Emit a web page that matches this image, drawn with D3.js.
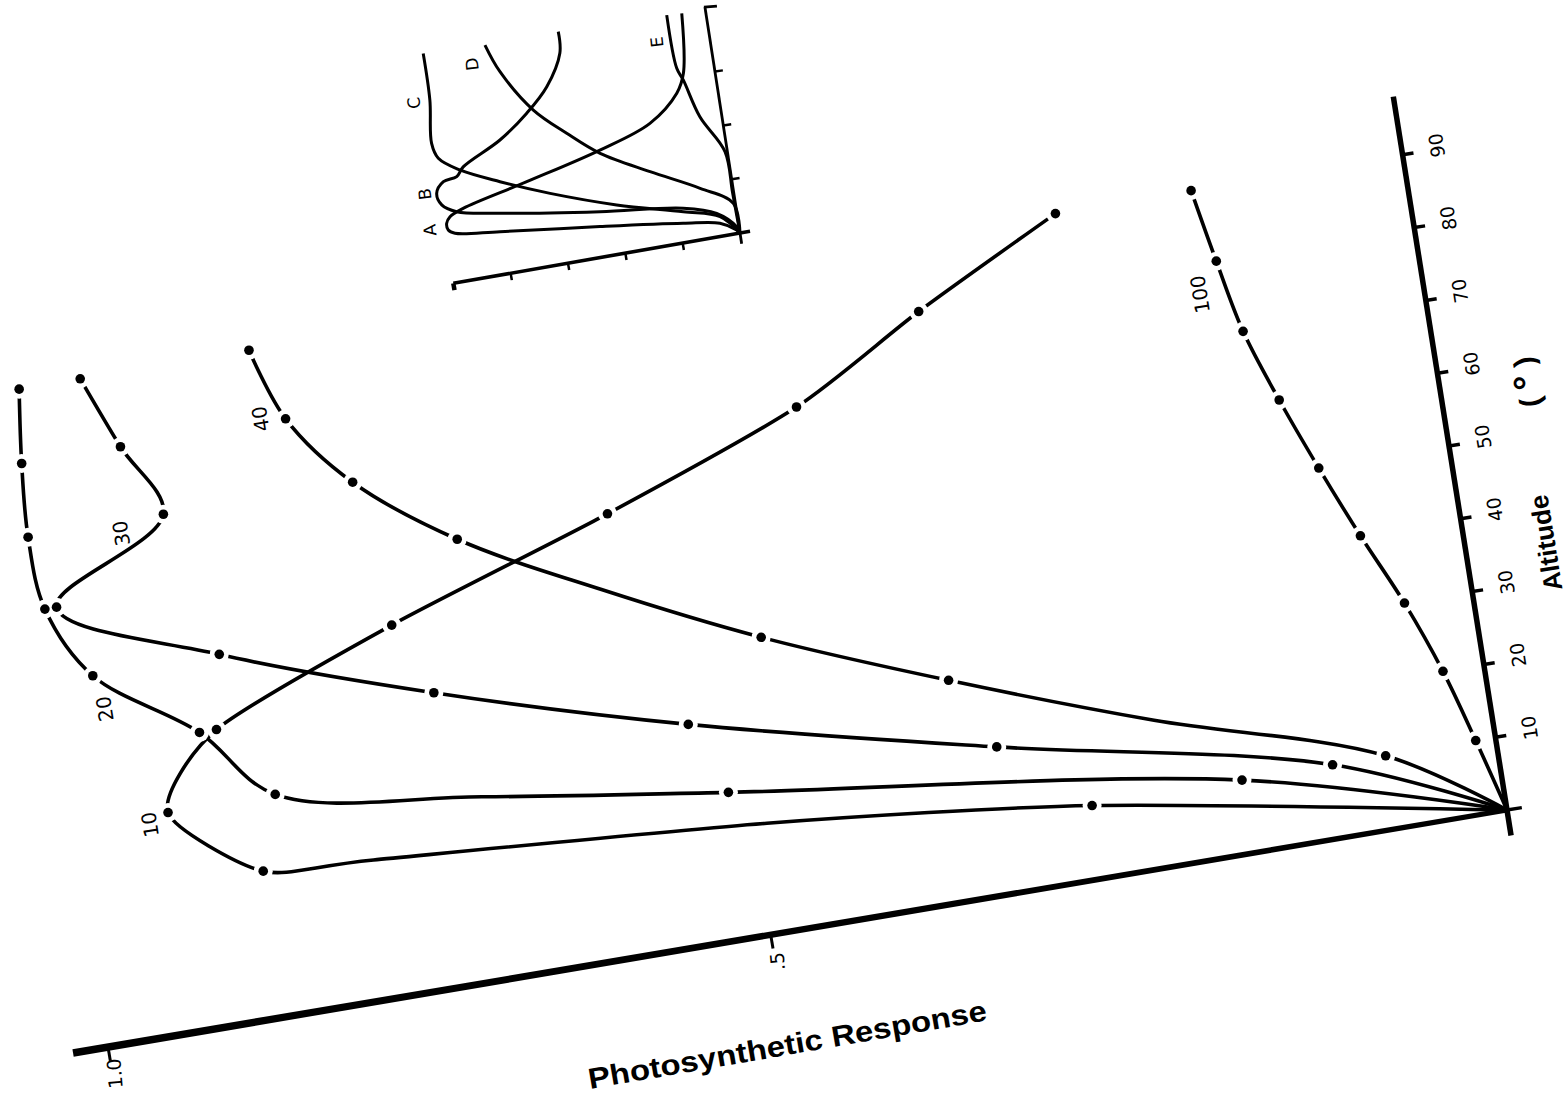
<!DOCTYPE html>
<html>
<head>
<meta charset="utf-8">
<script src="https://cdn.jsdelivr.net/npm/d3@7"></script>
<style>
  html, body { margin: 0; padding: 0; background: #fff; }
  svg { display: block; }
</style>
</head>
<body>
<svg id="chart" width="1567" height="1098"></svg>
<script>
// ---------------------------------------------------------------
// Data: readings of [solar altitude (deg), relative photosynthetic
// response] along each canopy curve (labelled 10, 20, 30, 40, 100).
// ---------------------------------------------------------------
const curve10  = [[0,0],[10,0.261],[15,0.490],[19,0.780],[20,0.863],[30,0.927],
                  [40,0.881],[50,0.739],[60,0.569],[70,0.422],[80,0.326],[90,0.222]];
const curve20  = [[0,0],[10,0.158],[20,0.514],[25,0.693],[30,0.845],[40,0.894],[50,0.967],
                  [60,0.995],[70,0.999],[80,0.995],[90,0.988]];
const curve30  = [[0,0],[10,0.098],[20,0.320],[30,0.535],[40,0.716],[50,0.870],[60,0.986],
                  [70,0.895],[80,0.919],[90,0.941]];
const curve40  = [[0,0],[10,0.064],[20,0.210],[30,0.346],[40,0.473],[50,0.582],[60,0.681],
                  [70,0.751],[80,0.793],[90,0.812]];
const curve100 = [[0,0],[10,0.010],[20,0.022],[30,0.038],[40,0.058],[50,0.077],[60,0.095],
                  [70,0.111],[80,0.121],[90,0.130]];

const curveNames = ["10", "20", "30", "40", "100"];

// altitudes at which an observation marker is plotted on each curve
const marks10  = [10, 20, 30, 40, 50, 60, 70, 80, 90];
const marks20  = [10, 20, 30, 40, 50, 60, 70, 80, 90];
const marks30  = [10, 20, 30, 40, 50, 60, 70, 80, 90];
const marks40  = [10, 30, 40, 60, 70, 80, 90];
const marks100 = [10, 20, 30, 40, 50, 60, 70, 80, 90];

// axis ticks
const altTicks = [10, 20, 30, 40, 50, 60, 70, 80, 90];
const respTicks = [0.5, 1.0];
const respTickLabels = [".5", "1.0"];

// ---------------------------------------------------------------
// Inset: curves A-E as [altitude, response] readings
// ---------------------------------------------------------------
const insetA = [[0,0],[1.3,0.010],[4.8,0.063],[7.1,0.188],[11.2,0.472],[15.7,0.814],[18,0.968],
                [19.6,0.989],[22.1,0.991],[24.3,0.976],[26.5,0.927],[32.1,0.697],[38.9,0.432],
                [45.4,0.248],[54.6,0.141],[61.4,0.108],[83.2,0.082]];
const insetB = [[0,0],[2.5,0.008],[8.6,0.069],[12.6,0.180],[16.6,0.464],[22.4,0.805],[25.7,0.951],
                [29.1,0.998],[33.6,1.009],[37.4,0.980],[38.4,0.932],[41.5,0.905],[48.9,0.766],
                [56.9,0.661],[65.2,0.579],[76.5,0.517],[84.4,0.511]];
const insetC = [[0,0],[7.2,0.059],[11.3,0.181],[18,0.404],[26.4,0.624],[33.8,0.788],[40.6,0.918],
                [46.2,0.985],[52,1.000],[67.8,0.983],[85.1,0.981]];
const insetD = [[0,0],[11.2,0.007],[18.7,0.112],[27.9,0.273],[37.7,0.433],[47.1,0.536],
                [57.6,0.637],[73.6,0.730],[84.2,0.767]];
const insetE = [[0,0],[15,0.004],[30.4,0.008],[44.6,0.075],[59,0.112],[63.6,0.128],[83.5,0.134]];
const insetNames = ["A", "B", "C", "D", "E"];
const insetAltTicks = [20, 40, 60];
const insetRespTicks = [0.2, 0.4, 0.6, 0.8, 1.0];

// ---------------------------------------------------------------
// Oblique projection: altitude runs up a tilted axis, response runs
// down-left along a receding axis that shares the same origin.
// ---------------------------------------------------------------
const svg = d3.select("#chart");
const unit = (x, y) => { const l = Math.hypot(x, y); return [x / l, y / l]; };
const deg = v => Math.atan2(v[1], v[0]) * 180 / Math.PI;

const origin = [1507, 810];
const altDir = unit(-1.16, -7.28);
const respDir = unit(-1399, 237);
const altLen = d3.scaleLinear().domain([0, 90]).range([0, 90 * Math.hypot(1.16, 7.28)]);
const respLen = d3.scalePow().exponent(0.926).domain([0, 1]).range([0, Math.hypot(1399, 237)]);

function P(a, r) {
  const da = altLen(a), dr = respLen(r);
  return [origin[0] + da * altDir[0] + dr * respDir[0],
          origin[1] + da * altDir[1] + dr * respDir[1]];
}
const altRight = [-altDir[1], altDir[0]];            // normal to the right of the altitude axis
const respDown = [respDir[1], -respDir[0]];           // normal below the response axis
const altAngle = deg(altDir);
const numFont = "DejaVu Sans, sans-serif";
const titleFont = "Liberation Sans, Arial, Helvetica, sans-serif";

// ---- axes ----
const axisG = svg.append("g");
const A0 = P(-3.5, 0), A1 = P(98, 0);
axisG.append("line").attr("x1", A0[0]).attr("y1", A0[1]).attr("x2", A1[0]).attr("y2", A1[1])
  .attr("stroke", "#000").attr("stroke-width", 5.5);

// response axis: a slightly tapering bar, heavier at the far end
const R1 = P(0, 1.027);
const wNear = 2.6, wFar = 3.8;
const bar = [
  [origin[0] - respDown[0] * wNear, origin[1] - respDown[1] * wNear],
  [R1[0] - respDown[0] * wFar, R1[1] - respDown[1] * wFar],
  [R1[0] + respDown[0] * wFar, R1[1] + respDown[1] * wFar],
  [origin[0] + respDown[0] * wNear, origin[1] + respDown[1] * wNear]
];
axisG.append("path").attr("d", d3.line()(bar) + "Z").attr("fill", "#000");

// altitude ticks (including the origin tick)
[0].concat(altTicks).forEach(t => {
  const p = P(t, 0), len = t === 0 ? 15 : 11;
  axisG.append("line").attr("x1", p[0]).attr("y1", p[1])
    .attr("x2", p[0] + altRight[0] * len).attr("y2", p[1] + altRight[1] * len)
    .attr("stroke", "#000").attr("stroke-width", 3.5);
});
altTicks.forEach(t => {
  const p = P(t, 0);
  const c = [p[0] + altRight[0] * 35 + altDir[0] * 4, p[1] + altRight[1] * 35 + altDir[1] * 4];
  axisG.append("text").attr("transform", `translate(${c[0]},${c[1]}) rotate(${altAngle})`)
    .attr("text-anchor", "middle").attr("dominant-baseline", "central")
    .attr("font-family", numFont).attr("font-size", 19).text(t);
});

// response ticks
respTicks.forEach((t, i) => {
  const p = P(0, t);
  axisG.append("line").attr("x1", p[0]).attr("y1", p[1])
    .attr("x2", p[0] + respDown[0] * 14).attr("y2", p[1] + respDown[1] * 14)
    .attr("stroke", "#000").attr("stroke-width", 3);
  const c = [p[0] + respDown[0] * 27, p[1] + respDown[1] * 27];
  axisG.append("text").attr("transform", `translate(${c[0] + 2},${c[1]}) rotate(-95)`)
    .attr("text-anchor", "middle").attr("dominant-baseline", "central")
    .attr("font-family", numFont).attr("font-size", 19).text(respTickLabels[i]);
});

// axis titles
axisG.append("text").attr("transform", `translate(1546,543) rotate(${altAngle})`)
  .attr("text-anchor", "middle").attr("dominant-baseline", "central")
  .attr("font-family", titleFont).attr("font-weight", "bold")
  .attr("font-size", 26).text("Altitude");
const unitLabel = axisG.append("text").attr("transform", `translate(1527,382) rotate(${altAngle})`)
  .attr("text-anchor", "middle").attr("dominant-baseline", "central")
  .attr("font-family", titleFont).attr("font-weight", "bold").attr("font-size", 29);
unitLabel.append("tspan").text("( ");
unitLabel.append("tspan").attr("font-size", 38).text("°");
unitLabel.append("tspan").text(" )");
axisG.append("text").attr("transform", "translate(590,1089) rotate(-9.8)")
  .attr("text-anchor", "start")
  .attr("font-family", titleFont).attr("font-weight", "bold")
  .attr("font-size", 29).attr("textLength", 404).attr("lengthAdjust", "spacingAndGlyphs")
  .text("Photosynthetic  Response");

// ---- response curves ----
const smooth = d3.curveCatmullRom.alpha(0.5);
const tight = d3.curveCardinal.tension(0.3);   // for the curve with a sharp bend at its low point
const series = [
  { name: curveNames[0], values: curve10,  marks: marks10,  shape: tight,  labelAt: 30, dx: -18, dy: 12 },
  { name: curveNames[1], values: curve20,  marks: marks20,  shape: smooth, labelAt: 50, dx: 12,  dy: 33 },
  { name: curveNames[2], values: curve30,  marks: marks30,  shape: smooth, labelAt: 70, dx: -42, dy: 19 },
  { name: curveNames[3], values: curve40,  marks: marks40,  shape: smooth, labelAt: 80, dx: -25, dy: 0 },
  { name: curveNames[4], values: curve100, marks: marks100, shape: smooth, labelAt: 70, dx: -43, dy: -37 }
];
const responseAt = (s, a) => s.values.find(d => d[0] === a)[1];
const curveG = svg.append("g");
series.forEach(s => {
  const path = d3.line().curve(s.shape);
  curveG.append("path").attr("d", path(s.values.map(d => P(d[0], d[1])))).attr("fill", "none")
    .attr("stroke", "#000").attr("stroke-width", 3.6).attr("stroke-linejoin", "round");
});
// gaps around markers, then the markers and curve labels
const haloG = svg.append("g"), dotG = svg.append("g");
series.forEach(s => {
  s.marks.forEach(a => {
    const p = P(a, responseAt(s, a));
    haloG.append("circle").attr("cx", p[0]).attr("cy", p[1]).attr("r", 9.5).attr("fill", "#fff");
    dotG.append("circle").attr("cx", p[0]).attr("cy", p[1]).attr("r", 4.8).attr("fill", "#000");
  });
  const p = P(s.labelAt, responseAt(s, s.labelAt));
  dotG.append("text").attr("transform", `translate(${p[0] + s.dx},${p[1] + s.dy}) rotate(${altAngle})`)
    .attr("text-anchor", "middle").attr("dominant-baseline", "central")
    .attr("font-family", numFont).attr("font-size", 20).text(s.name);
});

// ---------------------------------------------------------------
// Inset
// ---------------------------------------------------------------
const insetOrigin = [740, 233];
const insetAltDir = unit(-0.4175, -2.69);
const insetRespDir = unit(-286.7, 50.3);
const insetAltLen = d3.scaleLinear().domain([0, 20]).range([0, 20 * Math.hypot(0.4175, 2.69)]);
const insetRespLen = d3.scaleLinear().domain([0, 1]).range([0, Math.hypot(286.7, 50.3)]);
function Q(a, r) {
  const da = insetAltLen(a), dr = insetRespLen(r);
  return [insetOrigin[0] + da * insetAltDir[0] + dr * insetRespDir[0],
          insetOrigin[1] + da * insetAltDir[1] + dr * insetRespDir[1]];
}
const iRight = [-insetAltDir[1], insetAltDir[0]];
const iDown = [insetRespDir[1], -insetRespDir[0]];
const insetG = svg.append("g");
const q0 = Q(-4, 0), q1 = Q(84, 0);
insetG.append("line").attr("x1", q0[0]).attr("y1", q0[1]).attr("x2", q1[0]).attr("y2", q1[1])
  .attr("stroke", "#000").attr("stroke-width", 2.8);
insetG.append("line").attr("x1", q1[0] - 1).attr("y1", q1[1]).attr("x2", q1[0] + 12).attr("y2", q1[1] - 1)
  .attr("stroke", "#000").attr("stroke-width", 2.8);
insetAltTicks.forEach(t => {
  const p = Q(t, 0);
  insetG.append("line").attr("x1", p[0]).attr("y1", p[1])
    .attr("x2", p[0] + iRight[0] * 8).attr("y2", p[1] + iRight[1] * 8)
    .attr("stroke", "#000").attr("stroke-width", 2.5);
});
const r0 = Q(0, -0.035), r1 = Q(0, 1.0);
insetG.append("line").attr("x1", r0[0]).attr("y1", r0[1]).attr("x2", r1[0]).attr("y2", r1[1])
  .attr("stroke", "#000").attr("stroke-width", 3.6);
insetRespTicks.forEach(t => {
  const p = Q(0, t);
  insetG.append("line").attr("x1", p[0]).attr("y1", p[1])
    .attr("x2", p[0] + iDown[0] * 7).attr("y2", p[1] + iDown[1] * 7)
    .attr("stroke", "#000").attr("stroke-width", t === 1.0 ? 4.5 : 2.5);
});
const insetLine = d3.line().curve(smooth);
const insetSeries = [insetA, insetB, insetC, insetD, insetE];
insetSeries.forEach(s => {
  insetG.append("path").attr("d", insetLine(s.map(d => Q(d[0], d[1])))).attr("fill", "none")
    .attr("stroke", "#000").attr("stroke-width", 3).attr("stroke-linejoin", "round");
});
const insetLabelPos = [[430, 230], [425, 194], [414, 103], [472, 64], [657, 42]];
insetNames.forEach((n, i) => {
  insetG.append("text").attr("transform", `translate(${insetLabelPos[i][0]},${insetLabelPos[i][1]}) rotate(-96)`)
    .attr("text-anchor", "middle").attr("dominant-baseline", "central")
    .attr("font-family", numFont).attr("font-size", 17).text(n);
});
</script>
</body>
</html>
